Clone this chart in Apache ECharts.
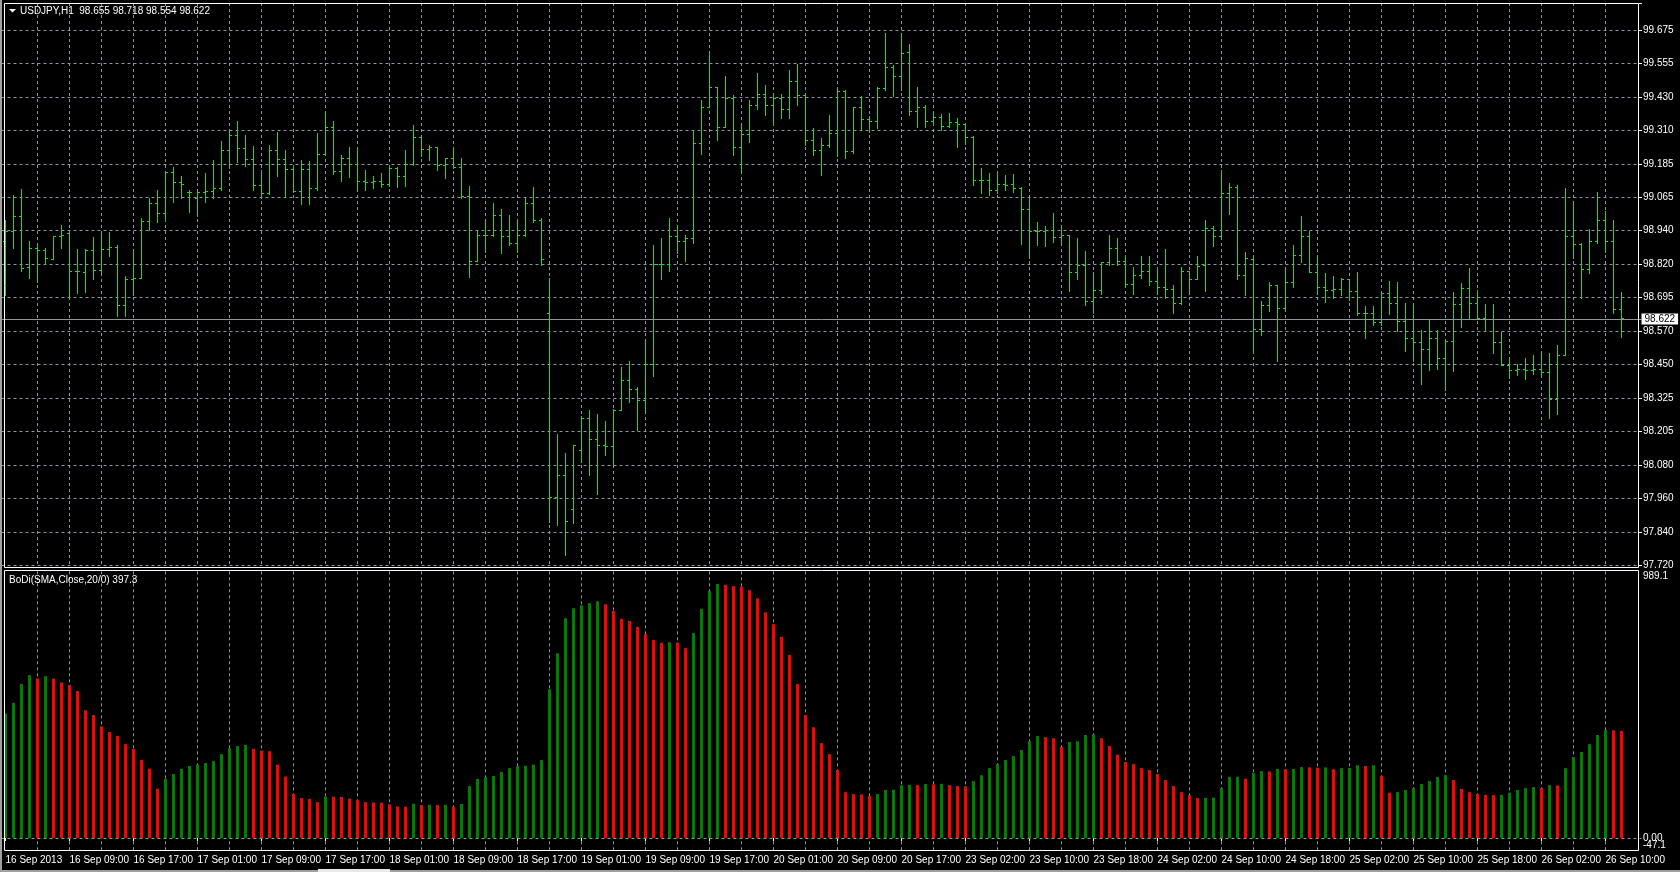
<!DOCTYPE html>
<html>
<head>
<meta charset="utf-8">
<script src="https://cdn.jsdelivr.net/npm/echarts@6.0.0/dist/echarts.min.js"></script>
<style>
html,body{margin:0;padding:0;background:#000;}
#chart{width:1680px;height:872px;}
</style>
</head>
<body>
<div id="chart"></div>
<script>
// ---------------- DATA ----------------
const symbolName = 'USDJPY,H1';
const indicatorName = 'BoDi(SMA,Close,20/0)';

const opens = [
98.905,98.941,98.994,98.811,98.878,98.871,98.839,98.921,98.935,98.795,
98.791,98.871,98.799,98.874,98.882,98.672,98.765,98.771,98.978,99.043,
99.008,99.156,99.120,99.083,99.061,99.083,99.087,99.097,99.236,99.293,
99.243,99.203,99.107,99.081,99.236,99.204,99.167,99.087,99.167,99.096,
99.222,99.320,99.160,99.207,99.187,99.124,99.120,99.123,99.114,99.171,
99.140,99.187,99.284,99.240,99.247,99.180,99.207,99.174,99.067,98.832,
98.925,98.928,98.998,98.921,98.897,98.928,99.043,98.981,98.642,97.970,
98.052,97.926,98.143,98.260,98.181,98.159,98.156,98.288,98.397,98.364,
98.324,98.454,98.822,98.819,98.924,98.904,98.915,99.262,99.392,99.468,
99.320,99.428,99.249,99.296,99.399,99.442,99.399,99.426,99.386,99.488,
99.439,99.273,99.236,99.253,99.297,99.452,99.233,99.392,99.350,99.342,
99.463,99.538,99.505,99.594,99.377,99.395,99.342,99.357,99.324,99.339,
99.333,99.284,99.127,99.127,99.090,99.111,99.114,99.097,99.021,98.941,
98.941,98.944,98.919,98.925,98.791,98.815,98.686,98.726,98.826,98.878,
98.831,98.749,98.779,98.795,98.758,98.736,98.729,98.679,98.795,98.765,
98.818,98.951,98.921,99.078,99.100,98.779,98.839,98.583,98.669,98.742,
98.659,98.753,98.855,98.921,98.791,98.736,98.726,98.729,98.765,98.722,
98.640,98.643,98.607,98.716,98.679,98.612,98.552,98.537,98.510,98.550,
98.479,98.539,98.673,98.732,98.679,98.625,98.619,98.534,98.453,98.433,
98.437,98.434,98.437,98.426,98.327,98.490,98.921,98.892,98.802,98.904,
98.981,98.904,98.655];

const highs = [
98.981,99.074,99.094,98.904,98.895,98.878,98.924,98.961,98.935,98.875,
98.875,98.919,98.939,98.939,98.888,98.775,98.871,98.988,99.061,99.091,
99.160,99.174,99.140,99.090,99.087,99.152,99.200,99.269,99.313,99.342,
99.293,99.250,99.163,99.256,99.302,99.236,99.180,99.200,99.196,99.297,
99.375,99.342,99.220,99.249,99.242,99.163,99.143,99.151,99.180,99.174,
99.236,99.326,99.289,99.256,99.249,99.209,99.247,99.207,99.104,98.941,
98.981,99.043,99.021,99.001,98.984,99.063,99.100,98.988,98.768,98.201,
98.132,98.161,98.267,98.287,98.274,98.247,98.291,98.444,98.466,98.371,
98.543,98.888,98.915,98.990,98.961,98.928,99.306,99.419,99.588,99.468,
99.505,99.439,99.333,99.419,99.519,99.472,99.446,99.442,99.528,99.552,
99.442,99.317,99.280,99.366,99.465,99.455,99.395,99.432,99.359,99.465,
99.662,99.548,99.662,99.622,99.468,99.399,99.379,99.369,99.373,99.353,
99.335,99.286,99.171,99.151,99.156,99.147,99.150,99.100,99.061,98.972,
98.959,99.008,98.959,98.926,98.915,98.868,98.791,98.826,98.925,98.915,
98.855,98.811,98.851,98.848,98.811,98.875,98.742,98.811,98.795,98.848,
98.981,98.959,99.163,99.116,99.107,98.864,98.842,98.685,98.755,98.742,
98.805,98.891,98.994,98.941,98.855,98.789,98.775,98.771,98.765,98.791,
98.667,98.667,98.718,98.758,98.755,98.679,98.676,98.579,98.619,98.579,
98.543,98.720,98.752,98.806,98.725,98.676,98.676,98.574,98.477,98.457,
98.477,98.490,98.499,98.497,98.526,99.097,99.050,98.897,98.948,99.083,
99.014,98.981,98.718];

const lows = [
98.709,98.879,98.795,98.769,98.755,98.819,98.839,98.879,98.693,98.716,
98.720,98.766,98.791,98.851,98.629,98.629,98.709,98.771,98.945,98.972,
98.978,99.045,99.061,99.012,98.997,99.047,99.063,99.090,99.170,99.191,
99.178,99.090,99.061,99.077,99.140,99.067,99.083,99.040,99.040,99.091,
99.220,99.150,99.124,99.137,99.087,99.091,99.099,99.103,99.104,99.103,
99.104,99.183,99.216,99.200,99.163,99.136,99.171,99.063,98.773,98.831,
98.866,98.924,98.862,98.888,98.866,98.924,98.974,98.815,97.880,97.866,
97.760,97.876,98.099,98.052,97.982,98.125,98.085,98.287,98.317,98.214,
98.287,98.411,98.765,98.795,98.862,98.831,98.898,99.222,99.392,99.273,
99.320,99.220,99.164,99.264,99.386,99.366,99.326,99.353,99.353,99.399,
99.253,99.220,99.147,99.247,99.213,99.207,99.227,99.310,99.304,99.316,
99.455,99.435,99.456,99.366,99.320,99.320,99.326,99.310,99.322,99.249,
99.260,99.107,99.081,99.074,99.081,99.091,99.083,98.892,98.844,98.888,
98.886,98.901,98.897,98.722,98.765,98.672,98.643,98.712,98.815,98.815,
98.736,98.712,98.769,98.745,98.712,98.696,98.643,98.676,98.712,98.765,
98.722,98.886,98.915,99.004,98.765,98.709,98.494,98.563,98.649,98.467,
98.649,98.736,98.826,98.791,98.712,98.680,98.696,98.709,98.689,98.636,
98.550,98.596,98.599,98.639,98.576,98.503,98.466,98.384,98.433,98.437,
98.361,98.430,98.590,98.620,98.623,98.579,98.497,98.450,98.406,98.417,
98.400,98.420,98.410,98.258,98.274,98.490,98.842,98.698,98.789,98.897,
98.866,98.640,98.554];

const closes = [
98.941,98.994,98.805,98.878,98.871,98.842,98.921,98.928,98.795,98.795,
98.871,98.799,98.874,98.882,98.672,98.765,98.771,98.978,99.043,99.008,
99.156,99.120,99.114,99.083,99.083,99.087,99.097,99.236,99.293,99.243,
99.203,99.107,99.081,99.236,99.204,99.167,99.087,99.167,99.096,99.222,
99.320,99.160,99.207,99.187,99.124,99.120,99.123,99.114,99.171,99.140,
99.187,99.284,99.240,99.247,99.180,99.207,99.174,99.067,98.832,98.925,
98.928,98.998,98.921,98.897,98.928,99.043,98.981,98.839,97.970,98.052,
97.884,98.159,98.260,98.181,98.159,98.156,98.288,98.397,98.364,98.324,
98.454,98.822,98.819,98.924,98.904,98.915,99.262,99.392,99.468,99.320,
99.428,99.249,99.296,99.399,99.442,99.399,99.426,99.386,99.488,99.439,
99.273,99.236,99.253,99.297,99.452,99.233,99.392,99.350,99.342,99.463,
99.538,99.505,99.592,99.377,99.395,99.342,99.357,99.324,99.339,99.333,
99.284,99.127,99.127,99.090,99.111,99.107,99.097,99.021,98.941,98.941,
98.944,98.919,98.925,98.791,98.815,98.686,98.726,98.826,98.878,98.831,
98.749,98.779,98.795,98.758,98.736,98.729,98.679,98.795,98.765,98.813,
98.951,98.921,99.078,99.100,98.779,98.842,98.583,98.669,98.742,98.659,
98.753,98.855,98.921,98.791,98.736,98.726,98.729,98.765,98.722,98.640,
98.643,98.607,98.716,98.679,98.612,98.552,98.537,98.510,98.550,98.479,
98.539,98.673,98.732,98.679,98.625,98.619,98.534,98.453,98.433,98.437,
98.434,98.437,98.426,98.327,98.490,98.921,98.892,98.802,98.904,98.981,
98.904,98.656,98.622];

const bodi = [
462,501,571,604,592,600,591,577,567,545,
474,456,414,393,378,348,330,289,257,183,
220,237,256,267,272,278,285,311,333,341,
345,331,324,322,272,228,163,148,145,133,
154,153,152,146,140,133,132,131,125,117,
116,127,122,123,122,123,116,126,193,219,
226,230,245,259,267,268,272,289,552,685,
815,852,863,871,878,867,842,813,805,783,
756,734,724,726,725,704,760,850,916,942,
939,934,933,919,889,837,793,746,679,571,
456,411,352,311,252,170,163,162,156,163,
178,179,196,197,196,200,199,201,196,193,
192,211,233,259,274,289,304,326,359,378,
374,370,338,356,359,382,385,370,341,309,
282,274,259,252,237,215,193,170,159,148,
149,150,185,226,227,220,241,248,247,256,
255,256,263,262,261,262,255,259,260,270,
267,270,230,168,170,178,185,200,211,226,
233,215,182,170,163,160,159,160,168,178,
185,189,185,196,195,259,300,319,348,382,
401,399.5,397.3];

const priceTickLabels = ['97.720','97.840','97.960','98.080','98.205','98.325','98.450','98.570',
  '98.695','98.820','98.940','99.065','99.185','99.310','99.430','99.555','99.675'];
const indTickValues = [-47.1, 0, 989.1];
const indTickLabels = ['-47.1', '0.00', '989.1'];
const timeTickLabels = ['16 Sep 2013','16 Sep 09:00','16 Sep 17:00','17 Sep 01:00','17 Sep 09:00',
  '17 Sep 17:00','18 Sep 01:00','18 Sep 09:00','18 Sep 17:00','19 Sep 01:00','19 Sep 09:00',
  '19 Sep 17:00','20 Sep 01:00','20 Sep 09:00','20 Sep 17:00','23 Sep 02:00','23 Sep 10:00',
  '23 Sep 18:00','24 Sep 02:00','24 Sep 10:00','24 Sep 18:00','25 Sep 02:00','25 Sep 10:00',
  '25 Sep 18:00','26 Sep 02:00','26 Sep 10:00'];

// ---------------- STYLE / LAYOUT ----------------
const FONT = '"Liberation Sans",Arial,sans-serif';
const FS = 10;
const BAR_COLOR = '#32cd32';
const GRID_COLOR = '#8a96a3';
const UP = '#008000', DOWN = '#ff0000';
const TXT = '#ffffff';
const N = closes.length;
const L = N - 1;

// hourly bar times (broker time; weekend and Monday 00:00 skipped), plus 2 empty slots on the right
const MONTHS = ['Jan','Feb','Mar','Apr','May','Jun','Jul','Aug','Sep','Oct','Nov','Dec'];
const categories = [];
(function () {
  let t = Date.UTC(2013, 8, 16, 1);
  while (categories.length < N) {
    const d = new Date(t), wd = d.getUTCDay(), h = d.getUTCHours();
    if (wd !== 0 && wd !== 6 && !(wd === 1 && h === 0)) {
      const hh = String(h).padStart(2, '0');
      categories.push(d.getUTCDate() + ' ' + MONTHS[d.getUTCMonth()] + ' ' + d.getUTCFullYear() + ' ' + hh + ':00');
    }
    t += 3600000;
  }
  categories.push(' ', '  ');
})();

const PRICE_MIN = parseFloat(priceTickLabels[0]);
const PRICE_STEP = (parseFloat(priceTickLabels[priceTickLabels.length - 1]) - PRICE_MIN) / (priceTickLabels.length - 1);
const PRICE_MAX = 99.773;

const gridLineInterval = (i) => i > 0 && i % 4 === 0 && i < N;
const labelInterval = (i) => i % 8 === 0 && (i / 8) < timeTickLabels.length;

function priceLabel(v) {
  const k = Math.round((v - PRICE_MIN) / PRICE_STEP);
  if (Math.abs(PRICE_MIN + k * PRICE_STEP - v) > PRICE_STEP / 10) return '';
  return priceTickLabels[k] || '';
}

function renderOHLC(params, api) {
  const i = api.value(0);
  const pO = api.coord([i, api.value(1)]);
  const pH = api.coord([i, api.value(2)]);
  const pL = api.coord([i, api.value(3)]);
  const pC = api.coord([i, api.value(4)]);
  const x = Math.floor(pH[0]) + 0.5;
  const yH = Math.round(pH[1]), yL = Math.round(pL[1]) + 1;
  const yO = Math.round(pO[1]) + 0.5, yC = Math.round(pC[1]) + 0.5;
  const st = { stroke: BAR_COLOR, lineWidth: 1 };
  return {
    type: 'group',
    children: [
      { type: 'line', shape: { x1: x, y1: yH, x2: x, y2: yL }, style: st },
      { type: 'line', shape: { x1: x - 2.5, y1: yO, x2: x - 0.5, y2: yO }, style: st },
      { type: 'line', shape: { x1: x + 0.5, y1: yC, x2: x + 2.5, y2: yC }, style: st }
    ]
  };
}

const ohlc = opens.map((o, i) => [i, o, highs[i], lows[i], closes[i]]);
const bodiData = bodi.map((v, i) => ({
  value: v,
  itemStyle: { color: (i > 0 && v < bodi[i - 1]) ? DOWN : UP }
}));

const fmt3 = (v) => v.toFixed(3);
const splitLineStyle = { color: GRID_COLOR, type: [3, 3], width: 1 };
const lblStyle = { color: TXT, fontSize: FS, fontFamily: FONT };

// one right-hand label axis per indicator level (top / zero / bottom alignment like MT4)
function indAxis(k, vAlign) {
  return {
    type: 'value', gridIndex: 1, position: 'right', offset: -2.5,
    min: indTickValues[0], max: indTickValues[indTickValues.length - 1],
    axisLine: { show: false }, axisTick: { show: false }, splitLine: { show: false },
    axisLabel: Object.assign({
      show: true, margin: 4, customValues: [indTickValues[k]], verticalAlign: vAlign,
      showMinLabel: true, showMaxLabel: true,
      formatter: () => indTickLabels[k]
    }, lblStyle)
  };
}

const option = {
  animation: false,
  backgroundColor: '#000000',
  textStyle: { fontFamily: FONT },
  title: [
    {
      text: symbolName + '  ' + fmt3(opens[L]) + ' ' + fmt3(highs[L]) + ' ' + fmt3(lows[L]) + ' ' + fmt3(closes[L]),
      left: 20, top: 6, padding: 0,
      textStyle: { color: TXT, fontSize: FS, fontWeight: 'normal', fontFamily: FONT }
    },
    {
      text: indicatorName + ' ' + bodi[L].toFixed(1),
      left: 9, top: 575, padding: 0,
      textStyle: { color: TXT, fontSize: FS, fontWeight: 'normal', fontFamily: FONT }
    }
  ],
  graphic: [
    // pane frames
    { type: 'rect', silent: true, z: 50, shape: { x: 4.5, y: 3.5, width: 1634, height: 564 },
      style: { fill: null, stroke: '#ffffff', lineWidth: 1 } },
    { type: 'rect', silent: true, z: 50, shape: { x: 4.5, y: 570.5, width: 1634, height: 280 },
      style: { fill: null, stroke: '#ffffff', lineWidth: 1 } },
    // window edges
    { type: 'rect', silent: true, z: 50, shape: { x: 0, y: 0, width: 2, height: 872 },
      style: { fill: '#a0a0a0' } },
    { type: 'rect', silent: true, z: 50, shape: { x: 0, y: 870, width: 1680, height: 2 },
      style: { fill: '#a0a0a0' } },
    { type: 'rect', silent: true, z: 51, shape: { x: 318, y: 869, width: 72, height: 3 },
      style: { fill: '#e8e8e8' } },
    // collapse marker before the symbol title
    { type: 'polygon', silent: true, z: 50, shape: { points: [[9, 9], [16, 9], [12.5, 12.5]] },
      style: { fill: '#ffffff' } }
  ],
  grid: [
    { left: 1.5, top: 3, width: 1640, height: 562.5 },
    { left: 1.5, top: 571.3, width: 1640, height: 279.4 }
  ],
  xAxis: [
    {
      type: 'category', gridIndex: 0, data: categories, boundaryGap: true,
      axisLine: { show: false }, axisTick: { show: false }, axisLabel: { show: false },
      splitLine: { show: true, interval: gridLineInterval, alignWithLabel: true, lineStyle: splitLineStyle }
    },
    {
      type: 'category', gridIndex: 1, data: categories, boundaryGap: true, position: 'bottom',
      axisLine: { show: false },
      axisTick: { show: true, alignWithLabel: true, interval: labelInterval, length: 3, lineStyle: { color: TXT } },
      axisLabel: Object.assign({ show: true, interval: labelInterval, align: 'left', margin: 5,
        showMinLabel: true, showMaxLabel: true,
        formatter: (v, i) => timeTickLabels[i / 8] }, lblStyle),
      splitLine: { show: true, interval: gridLineInterval, alignWithLabel: true, lineStyle: splitLineStyle }
    }
  ],
  yAxis: [
    {
      type: 'value', gridIndex: 0, position: 'right', offset: -2.5,
      min: PRICE_MIN, max: PRICE_MAX, interval: PRICE_STEP,
      axisLine: { show: false },
      axisTick: { show: true, length: 3, lineStyle: { color: TXT } },
      axisLabel: Object.assign({ margin: 4, formatter: priceLabel, showMinLabel: true }, lblStyle),
      splitLine: { show: true, showMaxLine: false, lineStyle: splitLineStyle }
    },
    indAxis(2, 'top'),
    indAxis(1, 'middle'),
    indAxis(0, 'bottom')
  ],
  series: [
    {
      type: 'custom', name: symbolName, xAxisIndex: 0, yAxisIndex: 0,
      data: ohlc, encode: { x: 0, y: [1, 2, 3, 4] }, renderItem: renderOHLC, silent: true,
      markLine: {
        silent: true, symbol: ['none', 'none'], animation: false,
        lineStyle: { color: GRID_COLOR, type: 'solid', width: 1 },
        label: { show: true, position: 'end', distance: 0, formatter: () => fmt3(closes[L]),
          backgroundColor: '#ffffff', color: '#000000', padding: [1, 3, 0, 3], fontSize: FS, fontFamily: FONT },
        data: [{ yAxis: closes[L] }]
      }
    },
    {
      type: 'bar', name: indicatorName, xAxisIndex: 1, yAxisIndex: 1,
      data: bodiData, barWidth: 3, silent: true,
      markLine: {
        silent: true, symbol: ['none', 'none'], animation: false,
        lineStyle: { color: GRID_COLOR, type: [3, 3], width: 1 },
        label: { show: false },
        data: [{ yAxis: 0 }]
      }
    }
  ]
};

const chart = echarts.init(document.getElementById('chart'), null, { renderer: 'canvas' });
chart.setOption(option);
</script>
</body>
</html>
